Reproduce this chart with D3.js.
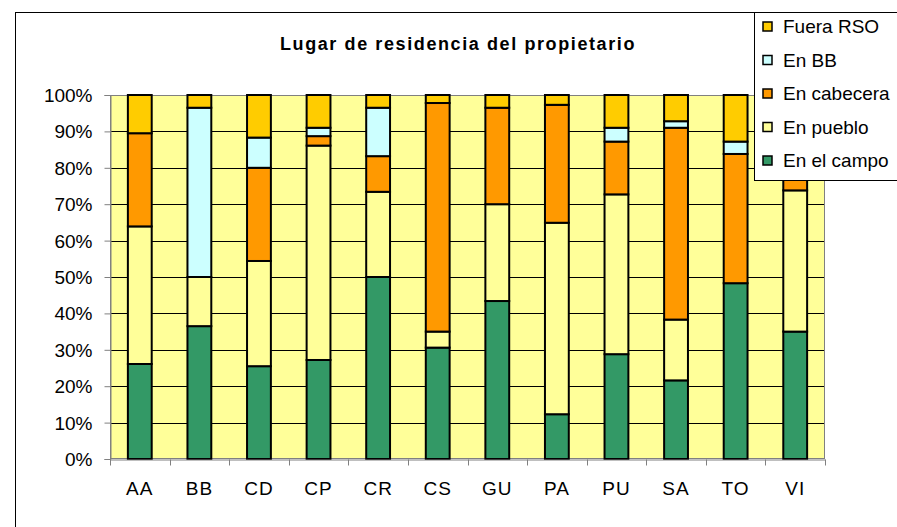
<!DOCTYPE html>
<meta charset="utf-8">
<style>
body { margin: 0; background: #fff; }
text { font-family: Arial, "Liberation Sans", sans-serif; fill: #000; }
</style>
<body>
<script src="https://d3js.org/d3.v7.min.js"></script>
<script>
var width = 897,
    height = 527;

var categories = ["AA", "BB", "CD", "CP", "CR", "CS", "GU", "PA", "PU", "SA", "TO", "VI"];
var enElCampo  = [26.1, 36.5, 25.5, 27.2, 50.0, 30.6, 43.4, 12.3, 28.8, 21.6, 48.3, 35.0];
var enPueblo   = [37.8, 13.5, 28.9, 58.9, 23.4,  4.4, 26.6, 52.6, 43.9, 16.7,  0.0, 38.8];
var enCabecera = [25.6,  0.0, 25.6,  2.6,  9.8, 62.8, 26.5, 32.4, 14.5, 52.7, 35.5, 12.0];
var enBB       = [ 0.0, 46.5,  8.3,  2.3, 13.3,  0.0,  0.0,  0.0,  3.8,  1.8,  3.4,  0.0];
var fueraRSO   = [10.5,  3.5, 11.7,  9.0,  3.5,  2.2,  3.5,  2.7,  9.0,  7.2, 12.8, 14.2];
var yTicks = [0, 10, 20, 30, 40, 50, 60, 70, 80, 90, 100];

var series = [
  { key: "campo", name: "En el campo", color: "#339966", values: enElCampo },
  { key: "pueblo", name: "En pueblo", color: "#FFFF99", values: enPueblo },
  { key: "cabecera", name: "En cabecera", color: "#FF9900", values: enCabecera },
  { key: "bb", name: "En BB", color: "#CCFFFF", values: enBB },
  { key: "fuera", name: "Fuera RSO", color: "#FFCC00", values: fueraRSO }
];

var rows = categories.map(function(c, i) {
  var r = { cat: c };
  series.forEach(function(s) { r[s.key] = s.values[i]; });
  return r;
});

var stacked = d3.stack().keys(series.map(function(s) { return s.key; }))(rows);

var plot = { left: 110, top: 95, right: 825, bottom: 459 };

var svg = d3.select("body").append("svg")
    .attr("width", width)
    .attr("height", height);

// chart area border
svg.append("rect")
    .attr("x", 15.5).attr("y", 12.5)
    .attr("width", 1000).attr("height", 1000)
    .attr("fill", "#fff")
    .attr("stroke", "#000");

var x = d3.scaleBand()
    .domain(categories)
    .range([plot.left, plot.right]);

var y = d3.scaleLinear()
    .domain([0, 100])
    .range([plot.bottom, plot.top]);

// plot background
svg.append("rect")
    .attr("x", plot.left).attr("y", plot.top)
    .attr("width", plot.right - plot.left)
    .attr("height", plot.bottom - plot.top)
    .attr("fill", "#FFFF99");

// gridlines
svg.append("g")
  .selectAll("line")
  .data(yTicks.slice(1, -1))
  .enter().append("line")
    .attr("x1", plot.left).attr("x2", plot.right)
    .attr("y1", function(d) { return Math.round(y(d)) + 0.5; })
    .attr("y2", function(d) { return Math.round(y(d)) + 0.5; })
    .attr("stroke", "#000");

// plot border
svg.append("rect")
    .attr("x", plot.left + 0.5).attr("y", plot.top + 0.5)
    .attr("width", plot.right - plot.left - 1)
    .attr("height", plot.bottom - plot.top - 1)
    .attr("fill", "none")
    .attr("stroke", "#808080");

// bars
var barW = x.bandwidth() * 0.4;
svg.append("g")
  .selectAll("g")
  .data(stacked)
  .enter().append("g")
    .attr("fill", function(d, i) { return series[i].color; })
  .selectAll("rect")
  .data(function(d) { return d; })
  .enter().append("rect")
    .attr("x", function(d) { return x(d.data.cat) + (x.bandwidth() - barW) / 2; })
    .attr("y", function(d) { return y(d[1]); })
    .attr("width", barW)
    .attr("height", function(d) { return y(d[0]) - y(d[1]); })
    .attr("stroke", "#000")
    .attr("stroke-width", 2);

// y axis
var yAxis = svg.append("g")
    .attr("transform", "translate(" + (plot.left + 0.5) + ",0)")
    .call(d3.axisLeft(y).tickValues(yTicks).tickSize(6).tickPadding(12)
      .tickFormat(function(d) { return d + "%"; }));
yAxis.select(".domain").attr("stroke", "#808080");
yAxis.selectAll(".tick line").attr("stroke", "#808080");
yAxis.selectAll("text")
    .attr("font-size", "19px")
    .attr("font-family", "Arial, 'Liberation Sans', sans-serif")
    .attr("dy", "0.34em");

// x axis
var xAxis = svg.append("g")
    .attr("transform", "translate(0," + (plot.bottom + 0.5) + ")")
    .call(d3.axisBottom(x).tickSize(0).tickPadding(22));
xAxis.select(".domain").attr("stroke", "#808080");
xAxis.selectAll("text")
    .attr("font-size", "19px")
    .attr("font-family", "Arial, 'Liberation Sans', sans-serif")
    .attr("letter-spacing", "1px");
xAxis.selectAll(".bound")
  .data(categories.concat([null]))
  .enter().append("line")
    .attr("class", "bound")
    .attr("x1", function(d) { return Math.round(d ? x(d) : plot.right) + 0.5; })
    .attr("x2", function(d) { return Math.round(d ? x(d) : plot.right) + 0.5; })
    .attr("y1", 0).attr("y2", 6)
    .attr("stroke", "#808080");

// title
svg.append("text")
    .attr("x", 458).attr("y", 50)
    .attr("text-anchor", "middle")
    .attr("font-size", "18px")
    .attr("font-weight", "bold")
    .attr("letter-spacing", "1.6px")
    .text("Lugar de residencia del propietario");

// legend
var legend = svg.append("g");
legend.append("rect")
    .attr("x", 754.5).attr("y", 12.5)
    .attr("width", 200).attr("height", 168)
    .attr("fill", "#fff")
    .attr("stroke", "#000");

var items = legend.selectAll(".item")
  .data(series.slice().reverse())
  .enter().append("g")
    .attr("transform", function(d, i) { return "translate(763," + (33 + i * 33.5) + ")"; });
items.append("rect")
    .attr("x", 0).attr("y", -11)
    .attr("width", 9).attr("height", 9)
    .attr("fill", function(d) { return d.color; })
    .attr("stroke", "#000")
    .attr("stroke-width", 1.5);
items.append("text")
    .attr("x", 20).attr("y", 0)
    .attr("font-size", "19px")
    .text(function(d) { return d.name; });
</script>
</body>
</html>
